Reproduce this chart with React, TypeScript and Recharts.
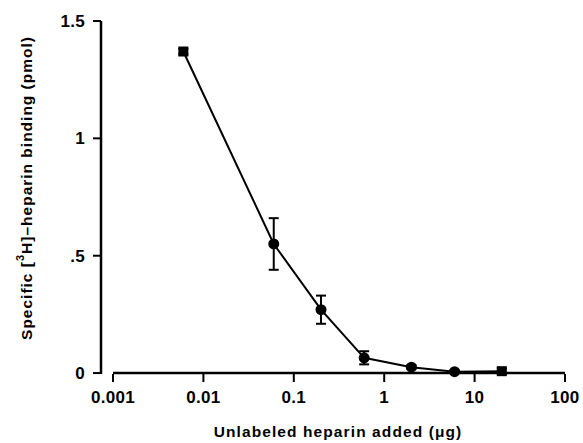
import React from 'react'
import {
  LineChart,
  Line,
  XAxis,
  YAxis,
  ErrorBar,
  ReferenceLine,
  Label,
} from 'recharts'

// unlabeled heparin (µg) vs specific [3H]-heparin binding (pmol)
const doses = [0.006, 0.06, 0.2, 0.6, 2, 6, 20]
const binding = [1.37, 0.55, 0.27, 0.065, 0.025, 0.006, 0.008]
const sem = [0.012, 0.11, 0.06, 0.028, 0.008, 0.006, 0.012]

const xTicks = [0.001, 0.01, 0.1, 1, 10, 100]
const yTicks = [0, 0.5, 1, 1.5]
const yTickLabels = ['0', '.5', '1', '1.5']

const FONT = "'Liberation Sans', Arial, Helvetica, sans-serif"

const data = doses.map((d, i) => ({ dose: d, bind: binding[i], err: sem[i] }))

const tickStyle = {
  fill: '#000',
  fontFamily: FONT,
  fontWeight: 'bold',
  fontSize: 17,
  letterSpacing: 0.3,
}

function Marker(props: any) {
  const { cx, cy, index } = props
  if (cx == null || cy == null) return null
  if (index === 0 || index === doses.length - 1) {
    return <rect key={`m${index}`} x={cx - 5} y={cy - 5} width={10} height={10} fill='#000' />
  }
  return <circle key={`m${index}`} cx={cx} cy={cy} r={5.5} fill='#000' />
}

function YTitle() {
  const x = 26
  const y = 188
  return (
    <text
      x={x}
      y={y}
      transform={`rotate(-90 ${x} ${y})`}
      textAnchor='middle'
      dominantBaseline='central'
      fontFamily={FONT}
      fontWeight='bold'
      fontSize={15.5}
      letterSpacing={1}
      fill='#000'
    >
      Specific [
      <tspan baselineShift='super' fontSize={11}>3</tspan>
      <tspan>H]–heparin binding (pmol)</tspan>
    </text>
  )
}

function XTitle() {
  return (
    <text
      x={338}
      y={437}
      textAnchor='middle'
      fontFamily={FONT}
      fontWeight='bold'
      fontSize={15.5}
      letterSpacing={1.1}
      fill='#000'
    >
      Unlabeled heparin added (μg)
    </text>
  )
}

export default function App() {
  return (
    <div style={{ position: 'absolute', left: 0, top: 0, width: 583, height: 443, background: '#fff' }}>
      <LineChart
        width={583}
        height={443}
        data={data}
        margin={{ top: 21, right: 18, left: 0, bottom: 19 }}
      >
        <XAxis
          dataKey='dose'
          type='number'
          scale='log'
          domain={[0.001, 100]}
          ticks={xTicks}
          padding={{ left: 12, right: 0 }}
          axisLine={false}
          tickLine={{ stroke: '#000', strokeWidth: 2 }}
          tickSize={8}
          tickMargin={9}
          height={50}
          tickFormatter={(v) => String(v)}
          tick={tickStyle}
          allowDataOverflow
        >
          <Label content={<XTitle />} />
        </XAxis>
        <YAxis
          type='number'
          domain={[0, 1.5]}
          ticks={yTicks}
          width={101}
          axisLine={{ stroke: '#000', strokeWidth: 2.5 }}
          tickLine={{ stroke: '#000', strokeWidth: 2 }}
          tickSize={8}
          tickMargin={8}
          tickFormatter={(v) => yTickLabels[yTicks.indexOf(v)] ?? String(v)}
          tick={tickStyle}
        >
          <Label content={<YTitle />} />
        </YAxis>
        <ReferenceLine
          segment={[
            { x: 0.001, y: 0 },
            { x: 100, y: 0 },
          ]}
          stroke='#000'
          strokeWidth={2.5}
          ifOverflow='visible'
        />
        <Line
          dataKey='bind'
          type='linear'
          stroke='#000'
          strokeWidth={2}
          dot={<Marker />}
          activeDot={false}
          isAnimationActive={false}
        >
          <ErrorBar dataKey='err' direction='y' width={5} stroke='#000' strokeWidth={2} />
        </Line>
      </LineChart>
    </div>
  )
}
